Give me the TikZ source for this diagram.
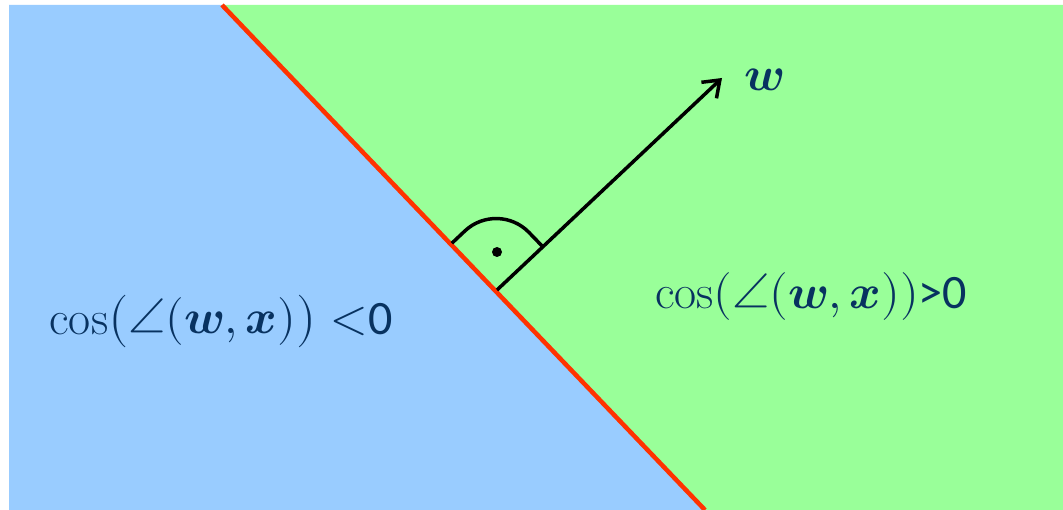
\documentclass[tikz,border=0pt]{standalone}
\usepackage{fontspec}
\usepackage{amsmath}
\usepackage{unicode-math}
\setmathfont{Latin Modern Math}
\newfontfamily\carlito{Carlito}
\usetikzlibrary{arrows.meta,calc}
\definecolor{bluebg}{RGB}{153,204,255}
\definecolor{greenbg}{RGB}{153,255,153}
\definecolor{redline}{RGB}{255,51,0}
\definecolor{navy}{RGB}{8,50,96}
\tikzset{
  lbl/.style={text=navy, inner sep=0pt, font=\fontsize{48}{56}\selectfont},
  vec/.style={line width=3.5pt, -{Straight Barb[length=15pt,width=22pt,line width=3.5pt]}},
}
\begin{document}
\begin{tikzpicture}[x=1pt,y=-1pt]
\useasboundingbox (0,0) rectangle (1063,510);
\fill[white] (0,0) rectangle (1063,510);
\coordinate (tl) at (9,5);
\coordinate (tr) at (1063,5);
\coordinate (br) at (1063,510);
\coordinate (bl) at (9,510);
\coordinate (top) at (222,5);
\coordinate (bot) at (705,510);
\fill[bluebg] (tl) -- (top) -- (bot) -- (bl) -- cycle;
\fill[greenbg] (top) -- (tr) -- (br) -- (bot) -- cycle;
\draw[redline, line width=4.5pt] (top) -- (bot);
\coordinate (base) at (497,290);
\coordinate (tip) at (722,78);
\draw[vec] (base) -- (tip);
\coordinate (p1) at ($(base)!65pt!(top)$);
\coordinate (p2) at ($(base)!63pt!(tip)$);
\coordinate (c) at ($(p1)+(p2)-(base)$);
\draw[line width=3.5pt, rounded corners=45pt] (p1) -- (c) -- (p2);
\fill (497,252) circle (5pt);
\node[lbl] (wl) at (764,80) {$\symbfit{w}$};
\node[lbl] (left) at (221,322) {$\cos\bigl(\angle(\symbfit{w},\symbfit{x})\bigr)$\ ${<}${\carlito 0}};
\node[lbl] (right) at (811,297) {$\cos(\angle(\symbfit{w},\symbfit{x}))${\carlito >0}};
\end{tikzpicture}
\end{document}
